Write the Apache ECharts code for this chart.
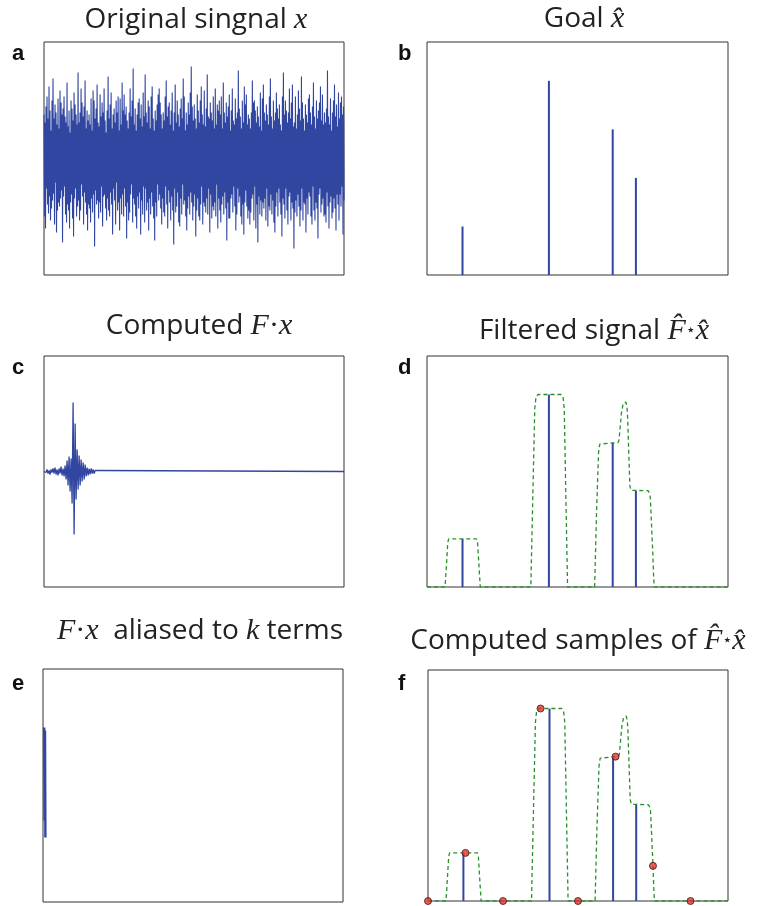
<!DOCTYPE html>
<html><head><meta charset="utf-8">
<script src="https://cdn.jsdelivr.net/npm/echarts@6/dist/echarts.min.js"></script>
<style>html,body{margin:0;padding:0;background:#fff}#c{width:762px;height:906px}</style>
</head><body><div id="c"></div>
<script>
// ---- data ----
// a: original signal x (time domain samples, arbitrary units)
const signalA = [
 44,-58,36,-70,52,-30,62,-46,40,-55,
 72,-38,48,-62,28,-50,58,-42,80,-35,
 40,-66,54,-24,46,-74,34,-52,60,-44,
 30,-48,68,-40,56,-32,44,-84,50,-38,
 62,-28,42,-56,36,-64,76,-46,32,-52,
 48,-70,26,-44,58,-36,50,-60,38,-78,
 66,-40,54,-30,44,-58,34,-48,86,-42,
 36,-62,46,-52,70,-26,56,-38,42,-66,
 52,-34,78,-44,30,-56,48,-72,38,-46,
 44,-50,34,-64,60,-40,28,-54,68,-36,
 58,-88,40,-32,50,-46,74,-42,36,-60,
 32,-44,64,-54,42,-28,56,-68,46,-38,
 70,-36,38,-50,26,-62,48,-40,82,-52,
 40,-58,54,-34,66,-46,30,-76,44,-30,
 50,-42,36,-66,58,-24,46,-52,62,-44,
 28,-72,60,-40,34,-56,76,-36,48,-58,
 64,-30,44,-48,52,-80,38,-44,30,-62,
 46,-54,70,-36,42,-26,58,-64,90,-40,
 34,-46,50,-58,28,-70,44,-38,56,-50,
 60,-34,40,-76,54,-42,32,-56,66,-28,
 42,-64,84,-30,46,-52,36,-44,58,-72,
 52,-40,30,-56,62,-34,72,-48,40,-60,
 28,-82,48,-44,38,-58,54,-26,64,-42,
 70,-36,56,-50,44,-66,30,-40,46,-54,
 38,-58,62,-28,78,-46,42,-70,52,-32,
 56,-44,34,-62,48,-38,66,-52,28,-86,
 46,-30,74,-54,36,-48,58,-34,44,-64,
 32,-68,50,-40,60,-56,40,-26,80,-46,
 62,-42,28,-58,46,-72,34,-50,56,-38,
 44,-56,66,-34,92,-44,52,-62,38,-48,
 54,-36,40,-78,30,-52,64,-40,48,-58,
 36,-62,58,-46,72,-28,44,-66,34,-44,
 68,-48,32,-54,50,-40,84,-56,42,-30,
 40,-74,56,-36,46,-60,38,-48,62,-52,
 30,-44,70,-58,34,-26,54,-70,48,-40,
 58,-52,44,-64,62,-46,30,-38,76,-56,
 46,-34,36,-50,56,-82,42,-44,52,-60,
 64,-60,28,-40,48,-36,70,-54,38,-28,
 34,-48,60,-72,40,-56,46,-30,88,-44,
 50,-38,42,-58,30,-66,58,-46,36,-76,
 72,-44,54,-32,64,-48,34,-60,44,-52,
 40,-66,30,-54,46,-40,78,-36,56,-62,
 58,-28,48,-70,36,-46,52,-84,42,-38,
 32,-56,66,-42,28,-58,60,-44,74,-50,
 46,-40,38,-62,54,-30,44,-68,34,-48,
 62,-52,80,-36,42,-56,30,-42,58,-64,
 38,-74,46,-48,66,-34,50,-58,40,-30,
 54,-44,34,-56,28,-78,62,-40,86,-46,
 44,-60,58,-30,48,-52,36,-66,46,-38,
 70,-34,40,-62,56,-44,74,-50,32,-90,
 36,-54,62,-42,30,-58,44,-36,68,-48,
 50,-68,38,-52,82,-30,56,-62,40,-44,
 28,-46,54,-74,44,-40,36,-56,60,-34,
 64,-38,46,-58,34,-66,52,-28,76,-52,
 42,-62,30,-44,58,-50,40,-80,48,-36,
 56,-30,72,-54,38,-46,64,-40,34,-58,
 46,-56,36,-64,50,-34,88,-48,42,-70,
 34,-44,60,-38,28,-60,46,-54,58,-40,
 74,-50,42,-72,54,-36,32,-46,66,-62,
 40,-36,56,-48,62,-28,44,-76,52,-42
];
// c: computed F·x (burst near the start, then flat)
const burstC = [
 0,1,-1,2,-2,1,-3,2,-1,3,-2,4,-3,2,-4,3,-2,5,-4,3,-5,
 6,-8,11,-14,15,-20,13,-32,69,-63,48,-28,22,-18,16,-14,12,-10,9,-8,
 7,-5,4,-4,3,-3,3,-2,2,-2,1,-1,1,0
];
const flatEndC = [[299, 0]];
// e: F·x aliased to k terms
const aliasE = [[1.2, 58], [1.6, -35], [2.0, 55], [2.4, -52]];
// b, d, f: sparse spectrum x̂
const spikeX = [118, 405, 617, 694];
const spikeV = [1, 4, 3, 2];
// d, f: filtered signal F̂⋆x̂ (green dashed)
const filtered = [
 [0,0],[60,0],[65,0.5],[69,0.92],[72,1],[165,1],[168,0.92],[172,0.5],[177,0],
 [345,0],[352,2.0],[358,3.7],[362,3.95],[369,4],[446,4],[452,3.95],[456,3.7],[461,2],[467,0],
 [557,0],[563,1.5],[570,2.8],[574,2.97],[580,3],[635,3],[638,3.06],[646,3.62],[652,3.82],
 [656,3.85],[661,3.84],[664,3.75],[666,3.6],[674,2.1],[678,2.01],[682,2],
 [735,2],[739,1.95],[742,1.85],[746,1.3],[750,0.72],[753,0.2],[755,0],[1000,0]
];
// f: computed samples
const sampleX = [0, 125, 250, 375, 500, 625, 750, 875];
const sampleV = [0, 1, 0, 4, 0, 3, 0.73, 0];

// ---- styling ----
const BLUE = '#3046a0';
const GREEN = '#2b8f2b';
const BORDER = '#333333';

const chart = echarts.init(document.getElementById('c'), null, {renderer: 'canvas'});

const gridBoxes = [
  {left: 44, top: 42, width: 300, height: 233},
  {left: 427, top: 42, width: 301, height: 233},
  {left: 44, top: 356, width: 300, height: 231},
  {left: 427, top: 356, width: 301, height: 231},
  {left: 43, top: 669, width: 300, height: 233},
  {left: 428, top: 670, width: 300, height: 231}
];
const xRanges = [[0, 599], [0, 1000], [0, 299], [0, 1000], [0, 299], [0, 1000]];
const yRanges = [[-116.5, 116.5], [0, 4.8], [-115.5, 115.5], [0, 4.8], [-116.5, 116.5], [0, 4.8]];

const grids = gridBoxes.map(g => Object.assign({show: true, borderColor: BORDER, borderWidth: 1,
  backgroundColor: 'transparent'}, g));
const xAxes = xRanges.map((r, i) => ({type: 'value', gridIndex: i, min: r[0], max: r[1], show: false}));
const yAxes = yRanges.map((r, i) => ({type: 'value', gridIndex: i, min: r[0], max: r[1], show: false}));

const spikes = spikeX.map((x, i) => [x, spikeV[i]]);
const samples = sampleX.map((x, i) => [x, sampleV[i]]);

function spikeSeries(idx) {
  return {type: 'bar', xAxisIndex: idx, yAxisIndex: idx, data: spikes, barWidth: 2,
    itemStyle: {color: BLUE}, silent: true, z: 3};
}
function filterSeries(idx) {
  return {type: 'line', xAxisIndex: idx, yAxisIndex: idx, data: filtered, showSymbol: false,
    lineStyle: {color: GREEN, width: 1.3, type: [4, 3]}, silent: true, z: 4};
}

const series = [
  {type: 'line', xAxisIndex: 0, yAxisIndex: 0, data: signalA.map((v, i) => [i, v]), showSymbol: false,
    lineStyle: {color: BLUE, width: 1.1}, silent: true},
  spikeSeries(1),
  {type: 'line', xAxisIndex: 2, yAxisIndex: 2, data: burstC.map((v, i) => [i, v]).concat(flatEndC),
    showSymbol: false, lineStyle: {color: BLUE, width: 1.3}, silent: true},
  spikeSeries(3), filterSeries(3),
  {type: 'line', xAxisIndex: 4, yAxisIndex: 4, data: aliasE, showSymbol: false,
    lineStyle: {color: BLUE, width: 2.4}, silent: true},
  spikeSeries(5), filterSeries(5),
  {type: 'scatter', xAxisIndex: 5, yAxisIndex: 5, data: samples, symbolSize: 7, clip: false,
    itemStyle: {color: '#e3332a', borderColor: '#3a1a1a', borderWidth: 1}, silent: true, z: 6}
];

const SANS = "'Open Sans', 'Noto Sans', sans-serif";
const SERIF = "'Liberation Serif', 'DejaVu Serif', serif";
const rich = {
  t: {fontFamily: SANS, fontSize: 28, fill: '#222', lineHeight: 36},
  m: {fontFamily: SERIF, fontStyle: 'italic', fontSize: 30, fill: '#222', lineHeight: 36},
  d: {fontFamily: SERIF, fontSize: 30, fill: '#222', lineHeight: 36},
  s: {fontFamily: "'DejaVu Sans', sans-serif", fontSize: 16, fill: '#222', lineHeight: 36}
};
const titles = [
  {x: 196, y: 20, text: '{t|Original singnal }{m|x}'},
  {x: 584, y: 19, text: '{t|Goal }{m|x\u0302}'},
  {x: 199, y: 326, text: '{t|Computed }{m|F}{d|·}{m|x}'},
  {x: 594, y: 331, text: '{t|Filtered signal }{m|F\u0302}{s|⋆}{m|x\u0302}'},
  {x: 200, y: 631, text: '{m|F}{d|·}{m|x}{t|  aliased to }{m|k}{t| terms}'},
  {x: 578, y: 641, text: '{t|Computed samples of }{m|F\u0302}{s|⋆}{m|x\u0302}'}
];
const letters = [
  {x: 12, y: 54, text: 'a'}, {x: 398, y: 54, text: 'b'},
  {x: 12, y: 368, text: 'c'}, {x: 398, y: 368, text: 'd'},
  {x: 12, y: 684, text: 'e'}, {x: 398, y: 684, text: 'f'}
];
const graphic = titles.map(t => ({type: 'text', x: t.x, y: t.y, silent: true,
  style: {text: t.text, rich: rich, align: 'center', verticalAlign: 'middle'}}))
  .concat(letters.map(l => ({type: 'text', x: l.x, y: l.y, silent: true,
  style: {text: l.text, fontFamily: "'Liberation Sans', Arial, sans-serif", fontWeight: 'bold',
    fontSize: 22, fill: '#111', align: 'left', verticalAlign: 'middle'}})));

chart.setOption({animation: false, grid: grids, xAxis: xAxes, yAxis: yAxes, series: series, graphic: graphic});
</script></body></html>
